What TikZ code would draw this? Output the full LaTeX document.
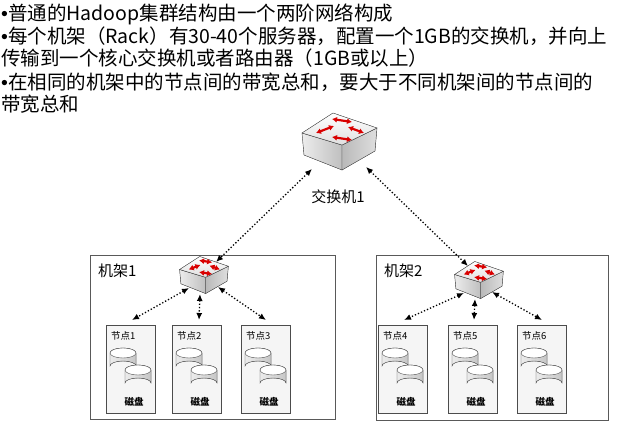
\documentclass[tikz,border=0pt]{standalone}
\usepackage{fontspec}
\setmainfont{Liberation Sans}
\newfontfamily\cjk{Noto Sans CJK SC}
\usetikzlibrary{shapes.geometric,arrows.meta}
\begin{document}
\begin{tikzpicture}[x=1pt,y=-1pt,
  conn/.style={dotted,line width=1.3pt,{Latex[length=7pt,width=6pt]}-{Latex[length=7pt,width=6pt]}},
  rack/.style={draw=gray!70!black,fill=white,thick},
  nodebox/.style={draw=gray!60!black,fill=gray!8},
  txt/.style={anchor=west,inner sep=0pt,font=\cjk\fontsize{19.5}{19.5}\selectfont},
  lbl/.style={font=\cjk,inner sep=0pt},
  rar/.style={red!85!black,line width=2.2pt,{Latex[length=5pt,width=6pt]}-{Latex[length=5pt,width=6pt]}},
  disk/.pic={
    \fill[left color=gray!15,right color=gray!45,draw=black!70] (-13,-6) arc[start angle=180,end angle=360,x radius=13,y radius=5] -- (13,7) arc[start angle=0,end angle=-180,x radius=13,y radius=5] -- cycle;
    \fill[white,draw=black!70] (0,-6) ellipse[x radius=13,y radius=5];
  },
  switch/.pic={
    \fill[left color=gray!15,right color=gray!50,draw=black!70] (-36,-10)--(4,2)--(4,27)--(-34,12)--cycle;
    \fill[left color=gray!55,right color=gray!25,draw=black!70] (4,2)--(39,-15)--(37,8)--(4,27)--cycle;
    \fill[top color=white,bottom color=gray!25,draw=black!70] (-36,-10)--(-5,-30)--(39,-15)--(4,2)--cycle;
    \draw[rar] (-22,-10)--(-4,-17);
    \draw[rar] (-6,-24)--(14,-21);
    \draw[rar] (-6,-6)--(14,-3);
    \draw[rar] (10,-16)--(26,-10);
  }]
\useasboundingbox (0,0) rectangle (622,431);
% text
\node[txt] (t1) at (1,14) {{\rmfamily•}普通的Hadoop集群结构由一个两阶网络构成};
\node[txt] (t2) at (1,36) {{\rmfamily•}每个机架（Rack）有30-40个服务器，配置一个1GB的交换机，并向上};
\node[txt] (t3) at (1,58) {传输到一个核心交换机或者路由器（1GB或以上）};
\node[txt] (t4) at (1,82) {{\rmfamily•}在相同的机架中的节点间的带宽总和，要大于不同机架间的节点间的};
\node[txt] (t5) at (1,104) {带宽总和};
% racks
\draw[rack] (90,255) rectangle (335,419);
\draw[rack] (376,255) rectangle (608,420);
\node[lbl,anchor=west,font=\cjk\fontsize{15}{15}\selectfont] (r1) at (98,271) {机架1};
\node[lbl,anchor=west,font=\cjk\fontsize{15}{15}\selectfont] (r2) at (384,271) {机架2};
% switches
\pic at (338,143) {switch};
\node[lbl,font=\cjk\fontsize{15}{15}\selectfont] (s0l) at (338,197) {交换机1};
\pic[scale=0.65] at (203,276) {switch};
\pic[scale=0.65] at (478,281) {switch};
\coordinate (s0a) at (312,169);
\coordinate (s0b) at (366,167);
\coordinate (s1t) at (216,262);
\coordinate (s2t) at (468,266);
\draw[conn] (s0a) -- (s1t);
\draw[conn] (s0b) -- (s2t);
% nodes
\foreach \n/\x/\y/\sx/\sy/\ex/\ey in {1/106/325/189/288/132/320,2/172/325/200/294/199/320,3/241/325/218/287/266/320,4/378/325/464/293/404/320,5/448/325/475/299/474/320,6/517/325/492/292/542/320}{
  \draw[nodebox] (\x,\y) rectangle ++(49,88);
  \node[lbl,anchor=west,font=\cjk\fontsize{9.5}{9.5}\selectfont] (n\n) at (\x+5,\y+11) {节点\n};
  \pic at (\x+17,\y+34) {disk};
  \pic at (\x+32,\y+51) {disk};
  \node[lbl,font=\cjk\bfseries\fontsize{9.5}{9.5}\selectfont] (dl\n) at (\x+28,\y+77) {磁盘};
  \coordinate (sw\n) at (\sx,\sy);
  \coordinate (nt\n) at (\ex,\ey);
  \draw[conn] (sw\n) -- (nt\n);
}
\end{tikzpicture}
\end{document}
